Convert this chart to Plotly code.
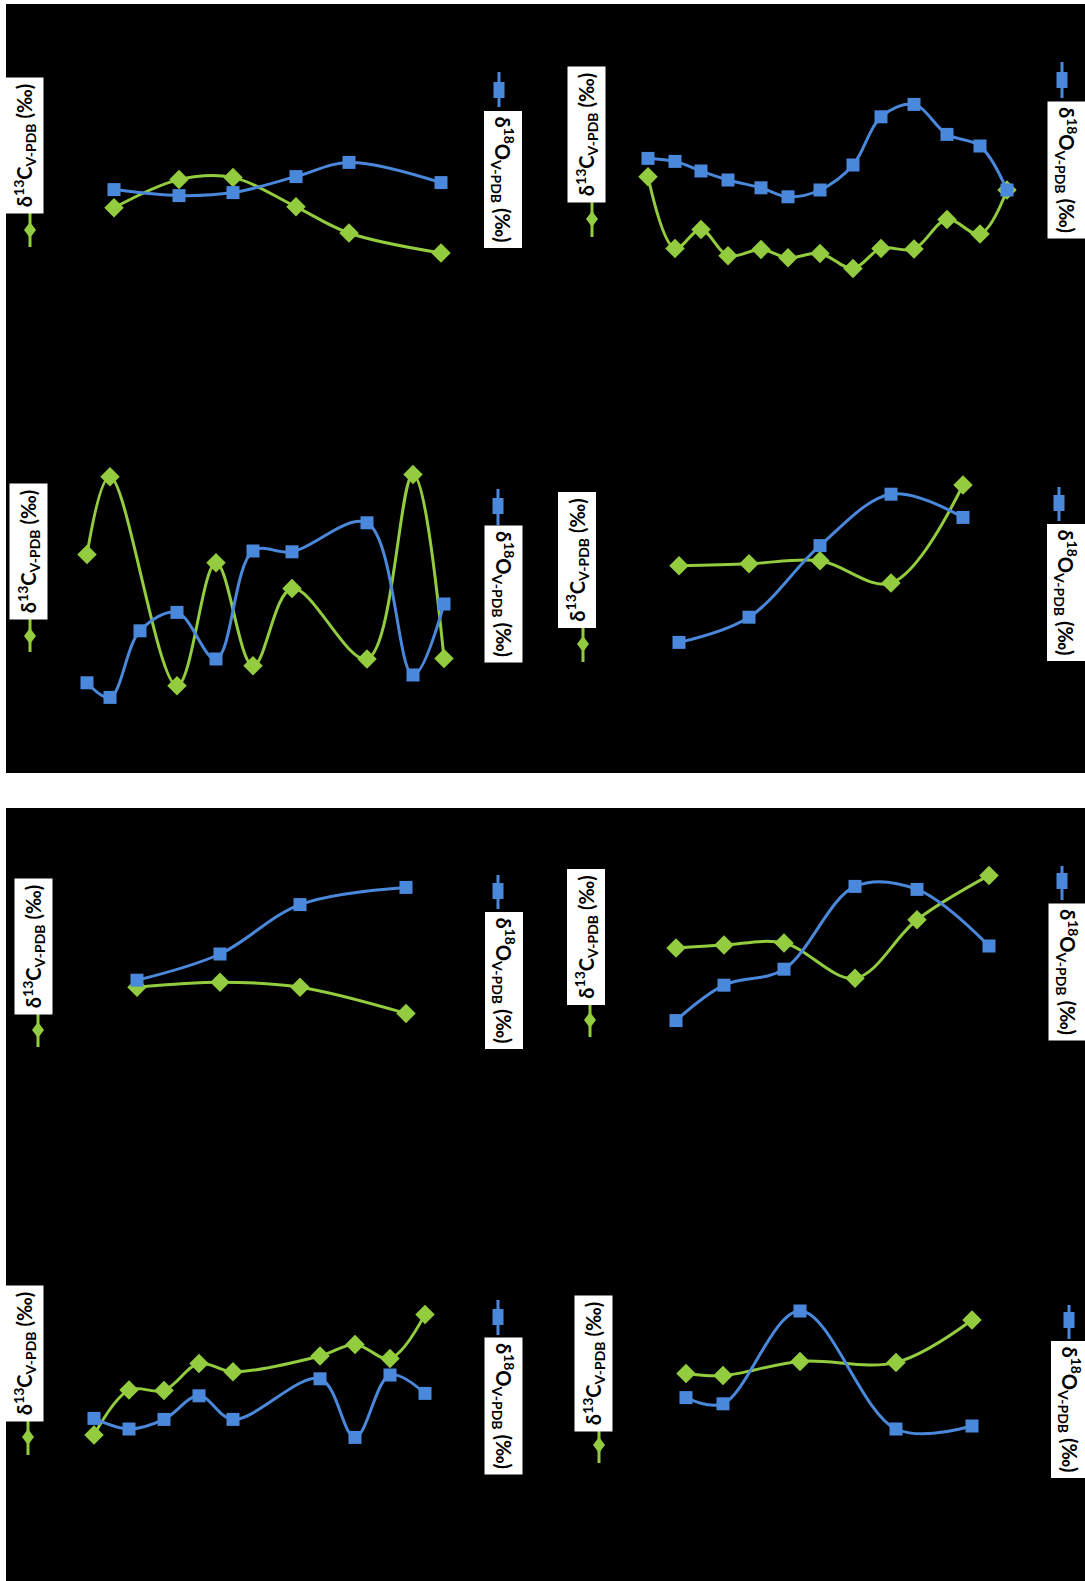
import plotly.graph_objects as go

W, H = 1085, 1581
BLUE = "#4a88dc"
GREEN = "#93cc3e"

# ---- data: sample position (x) and isotope values (per mil) ----
# top panel, upper-left
a_x = [5.4, 11.9, 17.3, 23.6, 28.9, 38.1]
a_o = [-5.48, -5.78, -5.63, -4.83, -4.12, -5.13]
a_c = [-6.39, -4.98, -4.88, -6.34, -7.65, -8.65]

# top panel, upper-right
b_x = [2.8, 5.5, 8.1, 10.8, 14.1, 16.8, 20.0, 23.3, 26.1, 29.4, 32.7, 36.0, 38.7]
b_o = [-3.92, -4.07, -4.55, -5.00, -5.39, -5.84, -5.50, -4.25, -1.84, -1.22, -2.72, -3.30, -5.50]
b_c = [-4.84, -8.42, -7.47, -8.79, -8.47, -8.89, -8.67, -9.42, -8.42, -8.45, -6.97, -7.70, -5.50]

# top panel, lower-left
c_x = [2.7, 5.0, 8.0, 11.7, 15.6, 19.3, 23.2, 30.7, 35.3, 38.4]
c_o = [-11.14, -11.87, -8.54, -7.62, -9.95, -4.55, -4.59, -3.14, -10.75, -7.20]
c_c = [-4.72, -0.84, None, -11.29, -5.14, -10.29, -6.42, -9.95, -0.72, -9.92]

# top panel, lower-right
d_x = [5.9, 12.9, 20.0, 27.1, 34.3]
d_o = [-9.12, -7.86, -4.28, -1.71, -2.87]
d_c = [-5.29, -5.19, -5.04, -6.15, -1.25]

# bottom panel, upper-left
e_x = [7.7, 16.0, 24.0, 34.6]
e_o = [-6.01, -4.70, -2.23, -1.37]
e_c = [-6.36, -6.11, -6.36, -7.67]

# bottom panel, upper-right
f_x = [5.6, 10.4, 16.4, 23.5, 29.7, 36.9]
f_o = [-8.03, -6.26, -5.46, -1.32, -1.47, -4.30]
f_c = [-4.40, -4.25, -4.15, -5.91, -2.99, -0.77]

# bottom panel, lower-left
g_x = [3.4, 6.9, 10.4, 13.9, 17.3, 26.0, 29.5, 33.0, 36.5]
g_o = [-6.42, -6.95, -6.47, -5.29, -6.47, -4.44, -7.37, -4.25, -5.17]
g_c = [-7.25, -5.00, -5.02, -3.67, -4.09, -3.30, -2.72, -3.42, -1.22]

# bottom panel, lower-right
h_x = [6.6, 10.3, 18.0, 27.6, 35.2]
h_o = [-5.38, -5.69, -1.05, -6.95, -6.80]
h_c = [-4.17, -4.28, -3.57, -3.62, -1.50]

C_LABEL = "δ<sup>13</sup>C<sub>V-PDB</sub> (‰)"
O_LABEL = "δ<sup>18</sup>O<sub>V-PDB</sub> (‰)"

# ---- layout geometry (pixels) ----
rows = {1: (80, 300, [-11, 0]), 2: (460, 720, [-13, 0]),
        3: (860, 1060, [-10, 0]), 4: (1290, 1470, [-9, 0])}
cols = {0: (60, 480), 1: (620, 1040)}
XR = [0, 42]


def px(x):
    return x / W


def py(y):
    return 1 - y / H


charts = [
    (a_x, a_o, a_c, 1, 0), (b_x, b_o, b_c, 1, 1),
    (c_x, c_o, c_c, 2, 0), (d_x, d_o, d_c, 2, 1),
    (e_x, e_o, e_c, 3, 0), (f_x, f_o, f_c, 3, 1),
    (g_x, g_o, g_c, 4, 0), (h_x, h_o, h_c, 4, 1),
]

# legend placement per chart: (c_box_cx, c_box_cy, c_sym_x, c_sym_y0, c_sym_y1, c_mark_y,
#                              o_box_cx, o_box_cy, o_sym_x, o_sym_y0, o_sym_y1, o_mark_y)
legends = [
    (24.5, 145.5, 30, 212, 247, 230, 503.5, 179, 499, 72, 107, 90),
    (586.5, 134.5, 592, 201, 237, 219, 1067, 170, 1062, 62, 98, 80),
    (28, 552, 30, 618, 652, 636, 504, 594, 498, 489, 525, 506),
    (577, 560.5, 583, 626, 662, 644, 1066.5, 592, 1059, 487, 521, 503),
    (33.5, 946.5, 38, 1010, 1047, 1030, 504, 980.5, 498, 875, 909, 891),
    (585.5, 937, 590, 1001, 1037, 1020, 1067.5, 971.5, 1062, 866, 900, 881),
    (24, 1354, 28, 1419, 1455, 1437, 504, 1406, 498, 1300, 1335, 1317),
    (593, 1364, 599, 1428, 1463, 1445, 1070, 1409.5, 1069, 1305, 1339, 1320),
]

fig = go.Figure()
layout = dict(
    width=W, height=H, margin=dict(l=0, r=0, t=0, b=0),
    paper_bgcolor="white", plot_bgcolor="rgba(0,0,0,0)",
    showlegend=False, shapes=[], annotations=[],
)

for i, (xs, o, c, row, col) in enumerate(charts):
    n = "" if i == 0 else str(i + 1)
    top, bot, yr = rows[row]
    left, right = cols[col]
    layout["xaxis" + n] = dict(domain=[px(left), px(right)], range=XR, visible=False,
                               anchor="y" + n)
    layout["yaxis" + n] = dict(domain=[py(bot), py(top)], range=yr, visible=False,
                               anchor="x" + n)
    fig.add_trace(go.Scatter(
        x=xs, y=c, xaxis="x" + n, yaxis="y" + n, mode="lines+markers",
        connectgaps=True, line=dict(color=GREEN, width=3, shape="spline", smoothing=1),
        marker=dict(symbol="diamond", size=15, color=GREEN), name="δ13C"))
    fig.add_trace(go.Scatter(
        x=xs, y=o, xaxis="x" + n, yaxis="y" + n, mode="lines+markers",
        line=dict(color=BLUE, width=3, shape="spline", smoothing=1),
        marker=dict(symbol="square", size=13, color=BLUE), name="δ18O"))

# black panels
for (y0, y1) in [(4, 773), (808, 1581)]:
    layout["shapes"].append(dict(type="rect", xref="paper", yref="paper", layer="below",
                                 x0=px(6), x1=px(1085), y0=py(y1), y1=py(y0),
                                 fillcolor="black", line=dict(width=0)))

for (ccx, ccy, csx, cy0, cy1, cmy, ocx, ocy, osx, oy0, oy1, omy) in legends:
    # legend key: diamond on a short green line
    layout["shapes"].append(dict(type="line", xref="paper", yref="paper",
                                 x0=px(csx), x1=px(csx), y0=py(cy0), y1=py(cy1),
                                 line=dict(color=GREEN, width=3)))
    layout["shapes"].append(dict(
        type="path", xref="paper", yref="paper", fillcolor=GREEN, line=dict(width=0),
        path=f"M {px(csx)},{py(cmy - 8)} L {px(csx + 6)},{py(cmy)} "
             f"L {px(csx)},{py(cmy + 8)} L {px(csx - 6)},{py(cmy)} Z"))
    # legend key: square on a short blue line
    layout["shapes"].append(dict(type="line", xref="paper", yref="paper",
                                 x0=px(osx), x1=px(osx), y0=py(oy0), y1=py(oy1),
                                 line=dict(color=BLUE, width=3)))
    layout["shapes"].append(dict(type="rect", xref="paper", yref="paper",
                                 fillcolor=BLUE, line=dict(width=0),
                                 x0=px(osx - 5.5), x1=px(osx + 5.5),
                                 y0=py(omy + 8), y1=py(omy - 8)))
    # legend labels
    layout["annotations"].append(dict(
        text="<b>" + C_LABEL + "</b>", xref="paper", yref="paper",
        x=px(ccx), y=py(ccy), xanchor="center", yanchor="middle", showarrow=False,
        textangle=-90, bgcolor="white", width=133, height=35,
        font=dict(family="Lato, Open Sans, sans-serif", size=20, color="black")))
    layout["annotations"].append(dict(
        text="<b>" + O_LABEL + "</b>", xref="paper", yref="paper",
        x=px(ocx), y=py(ocy), xanchor="center", yanchor="middle", showarrow=False,
        textangle=90, bgcolor="white", width=134, height=35,
        font=dict(family="Lato, Open Sans, sans-serif", size=20, color="black")))

fig.update_layout(**layout)
fig.write_html("out.html")
